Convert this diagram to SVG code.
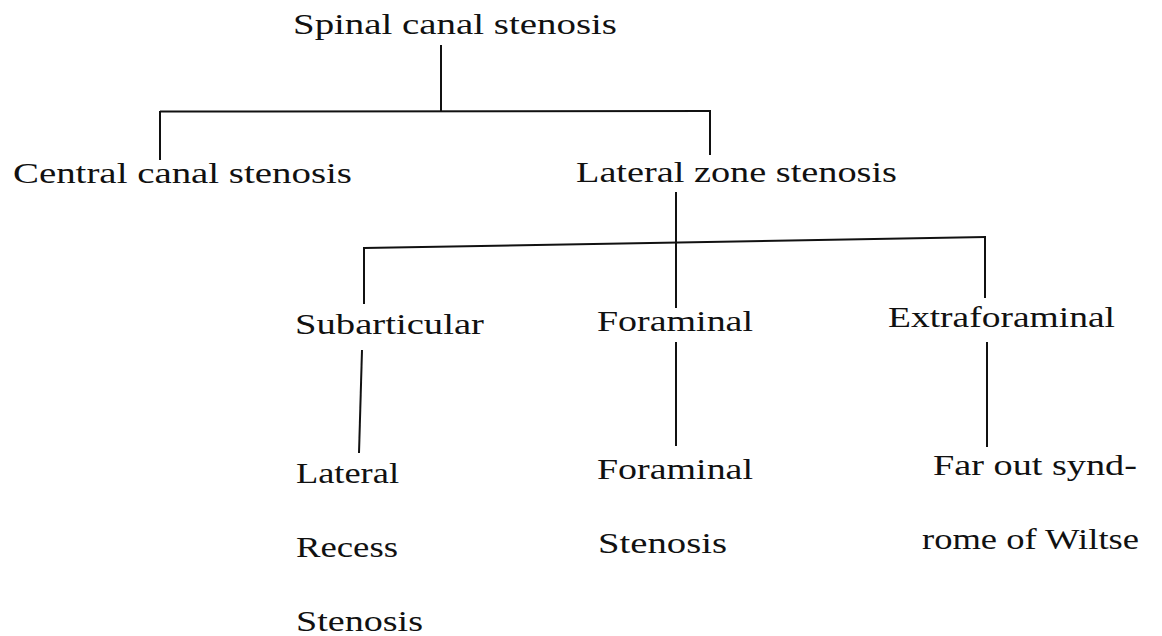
<svg xmlns="http://www.w3.org/2000/svg" width="1162" height="636" viewBox="0 0 1162 636">
<style>
text{font-family:"Liberation Serif","DejaVu Serif",serif;font-size:29px;fill:#111}
.c line{stroke:#111;stroke-width:2;stroke-linecap:butt}
</style>
<rect width="1162" height="636" fill="#fff"/>
<g class="c" id="connectors">
<line x1="441" y1="45" x2="441" y2="112"/>
<line x1="160" y1="111.5" x2="710" y2="111"/>
<line x1="160" y1="111" x2="160" y2="160"/>
<line x1="710" y1="110" x2="710" y2="155"/>
<line x1="676" y1="192" x2="676" y2="308"/>
<line x1="364" y1="248" x2="986" y2="237"/>
<line x1="364" y1="247" x2="364" y2="304"/>
<line x1="985" y1="236" x2="985" y2="298"/>
<line x1="362" y1="350" x2="359" y2="453"/>
<line x1="676" y1="342" x2="676" y2="446"/>
<line x1="987" y1="342" x2="987" y2="447"/>
</g>
<g id="n-spinal"><text x="293" y="34" textLength="324" lengthAdjust="spacingAndGlyphs">Spinal canal stenosis</text></g>
<g id="n-central"><text x="13" y="183" textLength="339" lengthAdjust="spacingAndGlyphs">Central canal stenosis</text></g>
<g id="n-lateralzone"><text x="576" y="182" textLength="321" lengthAdjust="spacingAndGlyphs">Lateral zone stenosis</text></g>
<g id="n-subarticular"><text x="295" y="334" textLength="189" lengthAdjust="spacingAndGlyphs">Subarticular</text></g>
<g id="n-foraminal"><text x="597" y="331" textLength="156" lengthAdjust="spacingAndGlyphs">Foraminal</text></g>
<g id="n-extraforaminal"><text x="888" y="327" textLength="227" lengthAdjust="spacingAndGlyphs">Extraforaminal</text></g>
<g id="n-lrs">
<text x="296" y="483" textLength="103" lengthAdjust="spacingAndGlyphs">Lateral</text>
<text x="296" y="557" textLength="102" lengthAdjust="spacingAndGlyphs">Recess</text>
<text x="296" y="631" textLength="127" lengthAdjust="spacingAndGlyphs">Stenosis</text>
</g>
<g id="n-fs">
<text x="597" y="479" textLength="156" lengthAdjust="spacingAndGlyphs">Foraminal</text>
<text x="598" y="553" textLength="129" lengthAdjust="spacingAndGlyphs">Stenosis</text>
</g>
<g id="n-farout">
<text x="933" y="475" textLength="204" lengthAdjust="spacingAndGlyphs">Far out synd-</text>
<text x="922" y="549" textLength="217" lengthAdjust="spacingAndGlyphs">rome of Wiltse</text>
</g>
</svg>
